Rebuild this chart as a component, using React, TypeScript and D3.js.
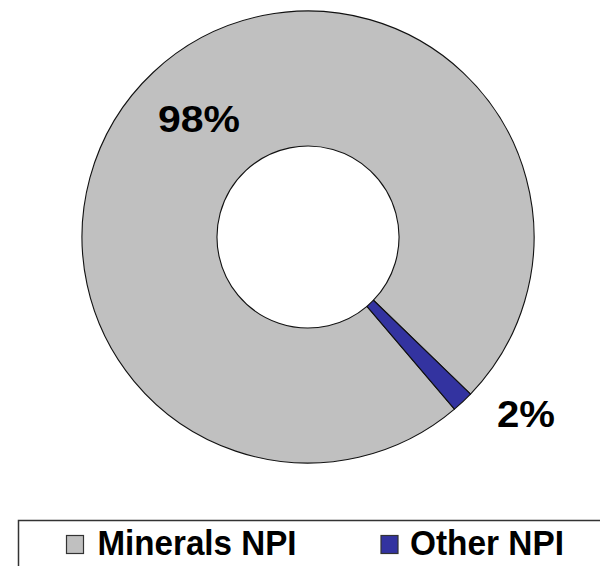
import React from "react";
import * as d3 from "d3";

const categories = ["Minerals NPI", "Other NPI"];
const values = [98.45, 1.55];
const labels = ["98%", "2%"];
const colors = ["#C0C0C0", "#3333A0"];

const W = 600;
const H = 566;
const cx = 308;
const cy = 237;
const outerR = 226;
const innerR = 91;
const startDeg = 139.6;

export default function App() {
  const pie = d3
    .pie<number>()
    .sort(null)
    .startAngle((startDeg * Math.PI) / 180)
    .endAngle((startDeg * Math.PI) / 180 + 2 * Math.PI);
  const arcs = pie(values);
  const arcGen = d3.arc<d3.PieArcDatum<number>>().innerRadius(innerR).outerRadius(outerR);

  const labelPos = [
    { x: 158, y: 132, len: 82 },
    { x: 497, y: 427, len: 58 },
  ];
  const legendPos = [
    { sx: 66.5, tx: 97.5, len: 199 },
    { sx: 381, tx: 410, len: 154 },
  ];

  return (
    <svg
      width={W}
      height={H}
      style={{ position: "absolute", left: 0, top: 0, background: "#fff" }}
      fontFamily="Arial, 'Liberation Sans', Helvetica, sans-serif"
    >
      <g transform={`translate(${cx},${cy})`}>
        {arcs.map((a, i) => (
          <path key={i} d={arcGen(a) || ""} fill={colors[i]} stroke="#111" strokeWidth={1.1} strokeLinejoin="round" />
        ))}
      </g>
      {labels.map((t, i) => (
        <text
          key={t}
          x={labelPos[i].x}
          y={labelPos[i].y}
          fontSize={37}
          fontWeight="bold"
          fill="#000"
          textLength={labelPos[i].len}
          lengthAdjust="spacingAndGlyphs"
        >
          {t}
        </text>
      ))}
      <rect x={18.5} y={520.5} width={620} height={100} fill="#fff" stroke="#333" strokeWidth={1.5} />
      {categories.map((c, i) => (
        <g key={c}>
          <rect x={legendPos[i].sx} y={535.5} width={17} height={18} fill={colors[i]} stroke="#333" strokeWidth={1.2} />
          <text
            x={legendPos[i].tx}
            y={555}
            fontSize={35}
            fontWeight="bold"
            fill="#000"
            textLength={legendPos[i].len}
            lengthAdjust="spacingAndGlyphs"
          >
            {c}
          </text>
        </g>
      ))}
    </svg>
  );
}
